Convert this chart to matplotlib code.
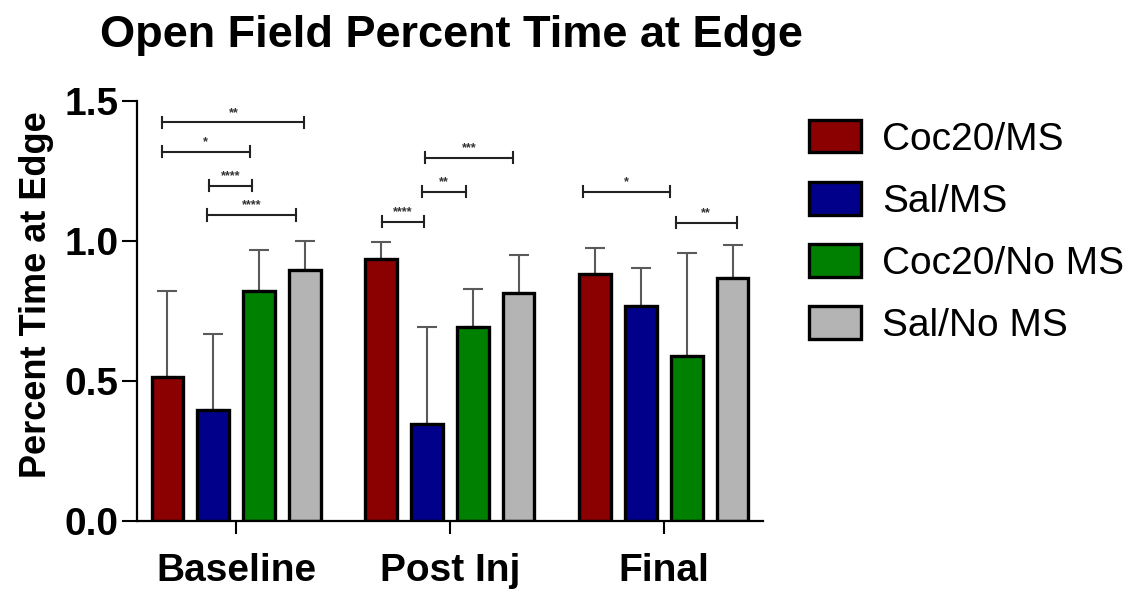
import matplotlib
matplotlib.use("Agg")
import matplotlib.pyplot as plt
import numpy as np

# data
groups = ["Baseline", "Post Inj", "Final"]
series = ["Coc20/MS", "Sal/MS", "Coc20/No MS", "Sal/No MS"]
colors = ["#8b0000", "#00008b", "#008000", "#b4b4b4"]

coc_ms = [0.516, 0.936, 0.881]
sal_ms = [0.396, 0.346, 0.768]
coc_noms = [0.821, 0.694, 0.589]
sal_noms = [0.896, 0.815, 0.867]

# upper error (SD) read as cap height minus bar height
coc_ms_err = [0.305, 0.062, 0.093]
sal_ms_err = [0.272, 0.347, 0.134]
coc_noms_err = [0.147, 0.134, 0.367]
sal_noms_err = [0.104, 0.135, 0.119]

# significance brackets: start x, end x, height, label
sig_x0 = [-0.344, -0.347, -0.126, -0.137, 0.883, 0.868, 0.681, 1.623, 2.056]
sig_x1 = [0.319, 0.065, 0.075, 0.280, 1.293, 1.075, 0.879, 2.028, 2.340]
sig_y = [1.424, 1.319, 1.198, 1.093, 1.298, 1.176, 1.069, 1.176, 1.066]
sig_lab = ["**", "*", "****", "****", "***", "**", "****", "*", "**"]

means = [coc_ms, sal_ms, coc_noms, sal_noms]
errs = [coc_ms_err, sal_ms_err, coc_noms_err, sal_noms_err]

plt.rcParams['font.family'] = ['Liberation Sans', 'DejaVu Sans']

fig = plt.figure(figsize=(11.34, 5.92), dpi=100)
ax = fig.add_axes([0.1208, 0.1199, 0.5520, 0.7095])

x = np.arange(len(groups))
step = 0.214
width = 0.148
for i in range(4):
	pos = x + (i - 1.5) * step
	ax.errorbar(pos, means[i], yerr=[np.zeros(3), errs[i]], fmt='none',
	            ecolor='#5a5a5a', elinewidth=1.5, capsize=7, capthick=1.5, zorder=1)
	ax.bar(pos, means[i], width, color=colors[i], edgecolor='black',
	       linewidth=2.4, label=series[i], zorder=2)

for x0, x1, y, lab in zip(sig_x0, sig_x1, sig_y, sig_lab):
	ax.plot([x0, x1], [y, y], color='#222222', lw=1.5, zorder=3)
	ax.plot([x0, x0], [y - 0.02, y + 0.02], color='#222222', lw=1.5, zorder=3)
	ax.plot([x1, x1], [y - 0.02, y + 0.02], color='#222222', lw=1.5, zorder=3)
	ax.text((x0 + x1) / 2, y + 0.012, lab, ha='center', va='bottom',
	        fontsize=9, fontweight='bold', color='#333333')

ax.set_xlim(-0.463, 2.463)
ax.set_ylim(0, 1.5)
ax.set_yticks([0.0, 0.5, 1.0, 1.5])
ax.set_yticklabels(["0.0", "0.5", "1.0", "1.5"], fontsize=28, fontweight='bold')
ax.set_xticks(x)
ax.set_xticklabels(groups, fontsize=28, fontweight='bold')
ax.tick_params(axis='y', length=11, width=1.5, pad=2)
ax.tick_params(axis='x', length=9, width=1.5, pad=14)
for s in ['top', 'right']:
	ax.spines[s].set_visible(False)
for s in ['left', 'bottom']:
	ax.spines[s].set_linewidth(1.6)

ax.set_ylabel("Percent Time at Edge", fontsize=26, fontweight='bold', labelpad=8)
ax.yaxis.label.set_y(0.538)
fig.text(0.088, 0.94, "Open Field Percent Time at Edge", fontsize=32.5,
         fontweight='bold', va='center', ha='left')

fig.legend(loc='upper left', bbox_to_anchor=(0.713, 0.797), frameon=False,
           fontsize=28, handlelength=1.34, handleheight=0.9, handletextpad=0.55,
           labelspacing=0.63, borderpad=0, borderaxespad=0)

plt.savefig("out.png", dpi=100)
